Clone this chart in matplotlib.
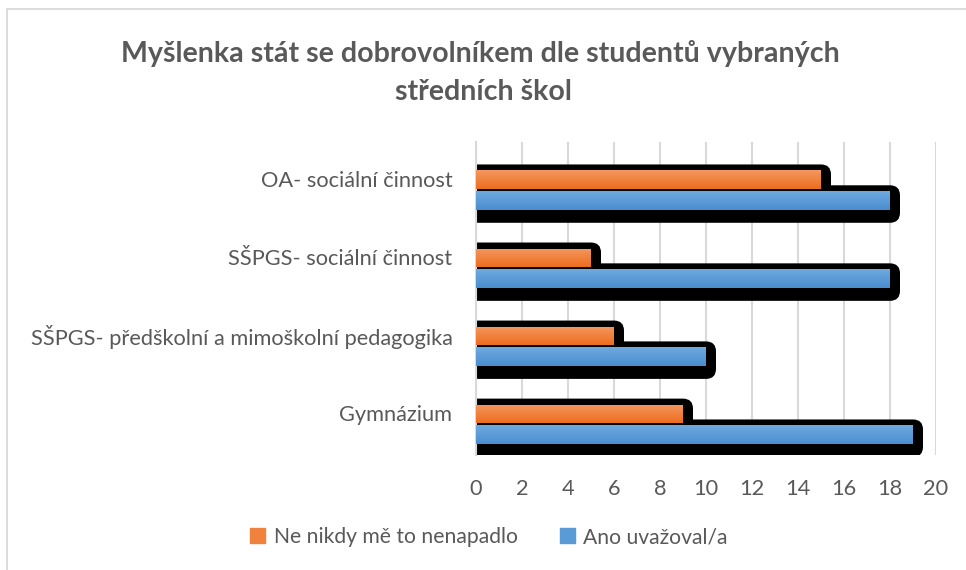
import numpy as np
import matplotlib.pyplot as plt
from matplotlib.patches import FancyBboxPatch, Rectangle, Patch
from matplotlib.colors import LinearSegmentedColormap
from matplotlib.transforms import IdentityTransform

plt.rcParams['font.family'] = ['Lato', 'DejaVu Sans']

# === Data (bottom to top, as drawn) ===
categories = ["Gymnázium",
              "SŠPGS- předškolní a mimoškolní pedagogika",
              "SŠPGS- sociální činnost",
              "OA- sociální činnost"]
ne_nikdy = [9, 6, 5, 15]
ano = [19, 10, 18, 18]
series_names = ["Ne nikdy mě to nenapadlo", "Ano uvažoval/a"]
xticks = list(range(0, 21, 2))

text_col = '#595959'
grid_col = '#D9D9D9'
orange_top, orange_bot = '#F5975F', '#EC6D1E'
blue_top, blue_bot = '#6FA9DF', '#4A8ED0'

fig = plt.figure(figsize=(9.66, 5.70), dpi=100)
ax = fig.add_axes([476 / 966, 1 - 455 / 570, 460 / 966, 313 / 570])

y = np.arange(len(categories))
h = 0.237
y_or = y - 0.013
y_bl = y - 0.28

ax.set_xlim(0, 20)
ax.set_ylim(-0.54, 3.47)

bars_or = ax.barh(y_or, ne_nikdy, height=h, color=orange_bot, zorder=3)
bars_bl = ax.barh(y_bl, ano, height=h, color=blue_bot, zorder=3)

# gradient fill inside each bar
cm_or = LinearSegmentedColormap.from_list('o', [orange_bot, orange_top])
cm_bl = LinearSegmentedColormap.from_list('b', [blue_bot, blue_top])
grad = np.linspace(0, 1, 64).reshape(-1, 1)
for bars, cmap in [(bars_or, cm_or), (bars_bl, cm_bl)]:
    for r in bars:
        x0, y0 = r.get_x(), r.get_y()
        im = ax.imshow(grad, cmap=cmap, origin='lower', aspect='auto',
                       extent=[x0, x0 + r.get_width(), y0, y0 + r.get_height()],
                       zorder=3.5)
        im.set_clip_path(r)

# black rounded shadows behind bars (pixel units)
for bars in [bars_or, bars_bl]:
    for r in bars:
        (px0, py0) = ax.transData.transform((r.get_x(), r.get_y()))
        (px1, py1) = ax.transData.transform((r.get_x() + r.get_width(),
                                             r.get_y() + r.get_height()))
        sx0 = px0 - 20
        sx1 = px1 + 10
        sy0 = py0 - 13
        sy1 = py1 + 6
        sh = FancyBboxPatch((sx0, sy0), sx1 - sx0, sy1 - sy0,
                            boxstyle="round,pad=0,rounding_size=10",
                            transform=IdentityTransform(),
                            fc='black', ec='none', zorder=2)
        ax.add_patch(sh)

ax.set_xlim(0, 20)
ax.set_ylim(-0.54, 3.47)

ax.set_xticks(xticks)
ax.set_yticks(y)
ax.set_yticklabels(categories)
ax.tick_params(axis='both', length=0, labelsize=15.7, colors=text_col)
ax.tick_params(axis='x', pad=17)
ax.tick_params(axis='y', pad=17)
ax.grid(axis='x', color=grid_col, lw=1.5)
ax.set_axisbelow(True)
for s in ['top', 'right', 'bottom']:
    ax.spines[s].set_visible(False)
ax.spines['left'].set_color(grid_col)
ax.spines['left'].set_linewidth(1.5)

# title
fig.text(0.497, 1 - 62 / 570, "Myšlenka stát se dobrovolníkem dle studentů vybraných",
         ha='center', va='baseline', fontsize=20.6, fontweight='bold', color=text_col)
fig.text(0.500, 1 - 100 / 570, "středních škol",
         ha='center', va='baseline', fontsize=20.6, fontweight='bold', color=text_col)

# legend
handles = [Patch(color='#F0823D'), Patch(color='#5A9AD6')]
fig.legend(handles, series_names, loc='center', bbox_to_anchor=(489 / 966, 1 - 537 / 570),
           ncol=2, frameon=False, fontsize=15.2, labelcolor=text_col,
           handlelength=0.7, handleheight=0.7, handletextpad=0.4, columnspacing=2.0)

# chart area border
fig.add_artist(Rectangle((7 / 966, -0.1), 1.2, 1.1 - 9 / 570 + 0.0,
                         transform=fig.transFigure, fill=False,
                         ec=grid_col, lw=1.3, clip_on=False))

fig.savefig("out.png", dpi=100)
